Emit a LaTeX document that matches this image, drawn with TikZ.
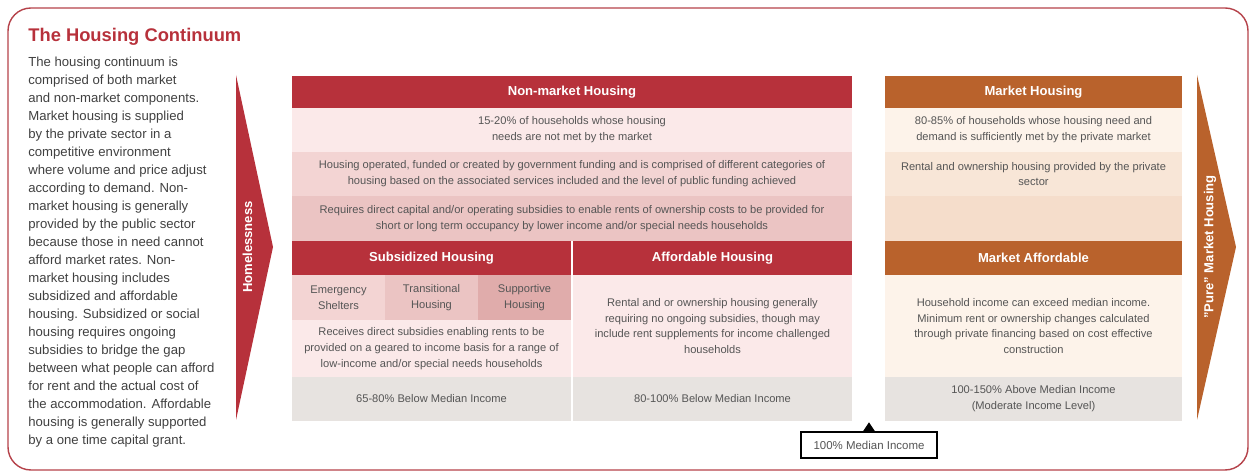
\documentclass[tikz,border=0pt]{standalone}
\usepackage{fontspec}
\setmainfont{Liberation Sans}
\definecolor{hred}{HTML}{B7313B}
\definecolor{horange}{HTML}{B9622C}
\definecolor{frame}{HTML}{B5424A}
\definecolor{pinkA}{HTML}{FBE9E9}
\definecolor{pinkB}{HTML}{F3D4D3}
\definecolor{pinkC}{HTML}{EBC4C3}
\definecolor{pinkD}{HTML}{E0ACAB}
\definecolor{greyc}{HTML}{E7E3E0}
\definecolor{orA}{HTML}{FDF3EA}
\definecolor{orB}{HTML}{F8E6D7}
\definecolor{orC}{HTML}{F5DDCB}
\definecolor{txt}{HTML}{555555}
\definecolor{body}{HTML}{404040}
\tikzset{
  cellsty/.style={inner sep=0pt, outer sep=0pt, anchor=north west, align=center,
    text=txt, font=\fontsize{6.3}{9}\selectfont},
  headsty/.style={cellsty, text=white, font=\bfseries\fontsize{7.4}{9}\selectfont},
}
% name, x1, y1, x2, y2, fill, style, text
\newcommand\cellbox[8]{%
  \node[#7, fill=#6, minimum width={(#4-#2)*0.567pt}, minimum height={(#5-#3)*0.567pt}] (#1) at (#2,#3) {#8};}
\begin{document}
\begin{tikzpicture}[x=0.567pt,y=-0.567pt]
\useasboundingbox (0,0) rectangle (1250,472);
% outer frame
\draw[frame, line width=0.8pt, rounded corners=13pt] (8,8) rectangle (1248,470);
% title and body
\node[anchor=base west, inner sep=0pt, text=hred, font=\bfseries\fontsize{10.4}{12}\selectfont] (title) at (28,42) {The Housing Continuum};
\node[anchor=north west, inner sep=0pt, align=left, text=body, font=\fontsize{7.45}{10.2}\selectfont] (bodytext) at (28,56.5) {The housing continuum is\\
comprised of both market\\
and non-market components.\\
Market housing is supplied\\
by the private sector in a\\
competitive environment\\
where volume and price adjust\\
according to demand. Non-\\
market housing is generally\\
provided by the public sector\\
because those in need cannot\\
afford market rates. Non-\\
market housing includes\\
subsidized and affordable\\
housing. Subsidized or social\\
housing requires ongoing\\
subsidies to bridge the gap\\
between what people can afford\\
for rent and the actual cost of\\
the accommodation. Affordable\\
housing is generally supported\\
by a one time capital grant.};
% side arrows
\fill[hred] (236,75) -- (273,247) -- (236,420) -- cycle;
\node[rotate=90, text=white, font=\bfseries\fontsize{7.4}{9}\selectfont] (homeless) at (247.5,247) {Homelessness};
\fill[horange] (1197,75) -- (1236,247) -- (1197,420) -- cycle;
\node[rotate=90, text=white, font=\bfseries\fontsize{7.4}{9}\selectfont] (pure) at (1210,247) {"Pure" Market Housing};
% non-market table
\cellbox{nmh}{292}{76}{852}{108}{hred}{headsty}{Non-market Housing}
\cellbox{nm1}{292}{108}{852}{152}{pinkA}{cellsty}{15-20\% of households whose housing\\needs are not met by the market}
\cellbox{nm2}{292}{152}{852}{196}{pinkB}{cellsty}{Housing operated, funded or created by government funding and is comprised of different categories of\\housing based on the associated services included and the level of public funding achieved}
\cellbox{nm3}{292}{196}{852}{241}{pinkC}{cellsty}{Requires direct capital and/or operating subsidies to enable rents of ownership costs to be provided for\\short or long term occupancy by lower income and/or special needs households}
\cellbox{sh}{292}{241}{571}{275}{hred}{headsty}{Subsidized Housing}
\cellbox{ah}{573}{241}{852}{275}{hred}{headsty}{Affordable Housing}
\cellbox{es}{292}{275}{385}{320}{pinkB}{cellsty}{Emergency\\Shelters}
\cellbox{th}{385}{275}{478}{320}{pinkC}{cellsty}{Transitional\\Housing}
\cellbox{sp}{478}{275}{571}{320}{pinkD}{cellsty}{Supportive\\Housing}
\cellbox{sd}{292}{320}{571}{377}{pinkA}{cellsty}{Receives direct subsidies enabling rents to be\\provided on a geared to income basis for a range of\\low-income and/or special needs households}
\cellbox{ad}{573}{275}{852}{377}{pinkA}{cellsty}{Rental and or ownership housing generally\\requiring no ongoing subsidies, though may\\include rent supplements for income challenged\\households}
\cellbox{si}{292}{377}{571}{421}{greyc}{cellsty}{65-80\% Below Median Income}
\cellbox{ai}{573}{377}{852}{421}{greyc}{cellsty}{80-100\% Below Median Income}
% market table
\cellbox{mh}{885}{76}{1182}{108}{horange}{headsty}{Market Housing}
\cellbox{m1}{885}{108}{1182}{152}{orA}{cellsty}{80-85\% of households whose housing need and\\demand is sufficiently met by the private market}
\cellbox{m2}{885}{152}{1182}{196}{orB}{cellsty}{Rental and ownership housing provided by the private\\sector}
\cellbox{m3}{885}{196}{1182}{241}{orC}{cellsty}{}
\cellbox{mah}{885}{241}{1182}{275}{horange}{headsty}{Market Affordable}
\cellbox{mad}{885}{275}{1182}{377}{orA}{cellsty}{Household income can exceed median income.\\Minimum rent or ownership changes calculated\\through private financing based on cost effective\\construction}
\cellbox{mai}{885}{377}{1182}{421}{greyc}{cellsty}{100-150\% Above Median Income\\(Moderate Income Level)}
% median marker
\node[draw=black, line width=0.8pt, fill=white, inner sep=0pt, minimum width={136*0.567pt}, minimum height={26*0.567pt}, text=txt, font=\fontsize{6.5}{8}\selectfont] (median) at (869,445) {100\% Median Income};
\fill[black] (median.north) ++(-6,0) -- ++(6,-9) -- ++(6,9) -- cycle;
\end{tikzpicture}
\end{document}
